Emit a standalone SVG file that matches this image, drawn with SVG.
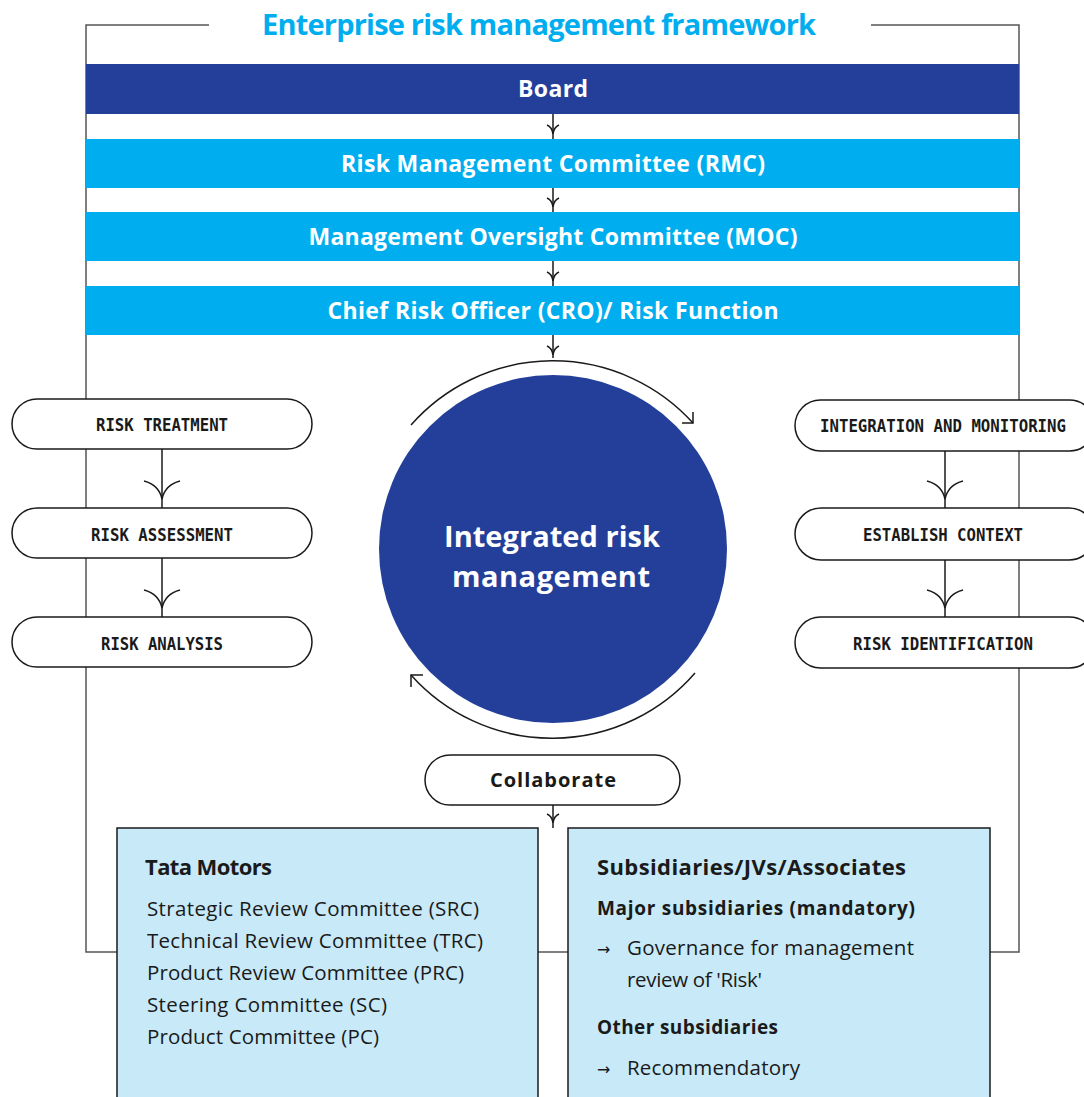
<svg xmlns="http://www.w3.org/2000/svg" xmlns:xlink="http://www.w3.org/1999/xlink" width="1084" height="1097" viewBox="0 0 1084 1097">
<style>
.frame{fill:none;stroke:#555;stroke-width:1.5}
.ln{fill:none;stroke:#1a1a1a;stroke-width:1.5}
.pill{fill:#fff;stroke:#1a1a1a;stroke-width:1.5}
.box{fill:#C7E9F8;stroke:#1a1a1a;stroke-width:1.5}
.bar-dark{fill:#233F99}
.bar-cyan{fill:#00AEEF}
.title{font-family:"Open Sans","Noto Sans",sans-serif;font-weight:700;font-size:29px;fill:#00AEEF}
.bartxt{font-family:"Open Sans","Noto Sans",sans-serif;font-weight:700;font-size:23px;fill:#fff}
.circtxt{font-family:"Open Sans","Noto Sans",sans-serif;font-weight:700;font-size:29px;fill:#fff}
.mono{font-family:"DejaVu Sans Mono","Liberation Mono",monospace;font-weight:700;font-size:18px;fill:#1a1a1a}
.collab{font-family:"Open Sans","Noto Sans",sans-serif;font-weight:700;font-size:20px;fill:#1a1a1a}
.head{font-family:"Open Sans","Noto Sans",sans-serif;font-weight:700;font-size:22px;fill:#1a1a1a}
.sub{font-family:"Open Sans","Noto Sans",sans-serif;font-weight:700;font-size:19px;fill:#1a1a1a}
.body{font-family:"Open Sans","Noto Sans",sans-serif;font-weight:400;font-size:20.5px;fill:#1a1a1a}
.arr{font-family:"DejaVu Sans",sans-serif;font-size:16px;fill:#1a1a1a}
</style>
<defs>
<path id="chevS" d="M-6,-9 Q-1,-7 0,0 M6,-9 Q1,-7 0,0" fill="none" stroke="#1a1a1a" stroke-width="1.5"/>
<path id="chevL" d="M-18,-18 Q-3,-14 0,0 M18,-18 Q3,-14 0,0" fill="none" stroke="#1a1a1a" stroke-width="1.5"/>
</defs>
<rect width="1084" height="1097" fill="#fff"/>

<g id="frame">
<path class="frame" d="M209,25 H86 V952 H1019 V25 H871"/>
</g>

<g id="title">
<text class="title" x="539" y="35" text-anchor="middle" textLength="554">Enterprise risk management framework</text>
</g>

<g id="board">
<rect class="bar-dark" x="86" y="64" width="933" height="50"/>
<text class="bartxt" x="553" y="97" text-anchor="middle" textLength="70">Board</text>
</g>
<g id="rmc">
<rect class="bar-cyan" x="86" y="139" width="933" height="49"/>
<text class="bartxt" x="553" y="172" text-anchor="middle" textLength="424">Risk Management Committee (RMC)</text>
</g>
<g id="moc">
<rect class="bar-cyan" x="86" y="212" width="933" height="49"/>
<text class="bartxt" x="553" y="245" text-anchor="middle" textLength="489">Management Oversight Committee (MOC)</text>
</g>
<g id="cro">
<rect class="bar-cyan" x="86" y="286" width="933" height="49"/>
<text class="bartxt" x="553" y="319" text-anchor="middle" textLength="451">Chief Risk Officer (CRO)/ Risk Function</text>
</g>

<g id="irm">
<circle cx="553" cy="549" r="174" fill="#233F99"/>
<text class="circtxt" x="552" y="547" text-anchor="middle" textLength="216">Integrated risk</text>
<text class="circtxt" x="551" y="587" text-anchor="middle" textLength="198">management</text>
</g>

<g id="risk-treatment">
<rect class="pill" x="12" y="399" width="300" height="50" rx="25"/>
<text class="mono" x="162" y="431" text-anchor="middle" textLength="132" lengthAdjust="spacingAndGlyphs">RISK TREATMENT</text>
</g>
<g id="risk-assessment">
<rect class="pill" x="12" y="508" width="300" height="50" rx="25"/>
<text class="mono" x="162" y="541" text-anchor="middle" textLength="142" lengthAdjust="spacingAndGlyphs">RISK ASSESSMENT</text>
</g>
<g id="risk-analysis">
<rect class="pill" x="12" y="617" width="300" height="50" rx="25"/>
<text class="mono" x="162" y="650" text-anchor="middle" textLength="122" lengthAdjust="spacingAndGlyphs">RISK ANALYSIS</text>
</g>
<g id="integration-monitoring">
<rect class="pill" x="795" y="400" width="300" height="51" rx="25.5"/>
<text class="mono" x="943" y="432" text-anchor="middle" textLength="246" lengthAdjust="spacingAndGlyphs">INTEGRATION AND MONITORING</text>
</g>
<g id="establish-context">
<rect class="pill" x="795" y="508" width="300" height="52" rx="26"/>
<text class="mono" x="943" y="541" text-anchor="middle" textLength="160" lengthAdjust="spacingAndGlyphs">ESTABLISH CONTEXT</text>
</g>
<g id="risk-identification">
<rect class="pill" x="795" y="617" width="300" height="51" rx="25.5"/>
<text class="mono" x="943" y="650" text-anchor="middle" textLength="180" lengthAdjust="spacingAndGlyphs">RISK IDENTIFICATION</text>
</g>

<g id="collaborate">
<rect class="pill" x="425" y="755" width="255" height="50" rx="25"/>
<text class="collab" x="553" y="787" text-anchor="middle" textLength="126">Collaborate</text>
</g>

<g id="tata-motors">
<rect class="box" x="117" y="828" width="421" height="280"/>
<text class="head" x="145" y="875" textLength="127">Tata Motors</text>
<text class="body" x="147" y="916" textLength="332">Strategic Review Committee (SRC)</text>
<text class="body" x="147" y="948" textLength="336">Technical Review Committee (TRC)</text>
<text class="body" x="147" y="980" textLength="317">Product Review Committee (PRC)</text>
<text class="body" x="147" y="1012" textLength="240">Steering Committee (SC)</text>
<text class="body" x="147" y="1044" textLength="232">Product Committee (PC)</text>
</g>

<g id="subsidiaries">
<rect class="box" x="568" y="828" width="422" height="280"/>
<text class="head" x="597" y="875" textLength="309">Subsidiaries/JVs/Associates</text>
<text class="sub" x="597" y="915" textLength="318">Major subsidiaries (mandatory)</text>
<text class="arr" x="597" y="955">→</text>
<text class="body" x="627" y="955" textLength="287">Governance for management</text>
<text class="body" x="627" y="987" textLength="135">review of 'Risk'</text>
<text class="sub" x="597" y="1034" textLength="181">Other subsidiaries</text>
<text class="arr" x="597" y="1075">→</text>
<text class="body" x="627" y="1075" textLength="173">Recommendatory</text>
</g>

<g id="connectors">
<line class="ln" x1="553" y1="114" x2="553" y2="139"/>
<use xlink:href="#chevS" x="553" y="134"/>
<line class="ln" x1="553" y1="188" x2="553" y2="212"/>
<use xlink:href="#chevS" x="553" y="207"/>
<line class="ln" x1="553" y1="261" x2="553" y2="286"/>
<use xlink:href="#chevS" x="553" y="281"/>
<line class="ln" x1="553" y1="335" x2="553" y2="358"/>
<use xlink:href="#chevS" x="553" y="355"/>
<path class="ln" d="M411,425 A189,189 0 0,1 693,423"/>
<path class="ln" d="M682,423 H693 V412"/>
<path class="ln" d="M695,673 A189,189 0 0,1 411,675"/>
<path class="ln" d="M423,675 H411 V687"/>
<line class="ln" x1="162" y1="449" x2="162" y2="508"/>
<use xlink:href="#chevL" x="162" y="499"/>
<line class="ln" x1="162" y1="558" x2="162" y2="617"/>
<use xlink:href="#chevL" x="162" y="608"/>
<line class="ln" x1="945" y1="451" x2="945" y2="508"/>
<use xlink:href="#chevL" x="945" y="499"/>
<line class="ln" x1="945" y1="560" x2="945" y2="617"/>
<use xlink:href="#chevL" x="945" y="608"/>
<line class="ln" x1="553" y1="805" x2="553" y2="828"/>
<use xlink:href="#chevS" x="553" y="823"/>
</g>
</svg>
